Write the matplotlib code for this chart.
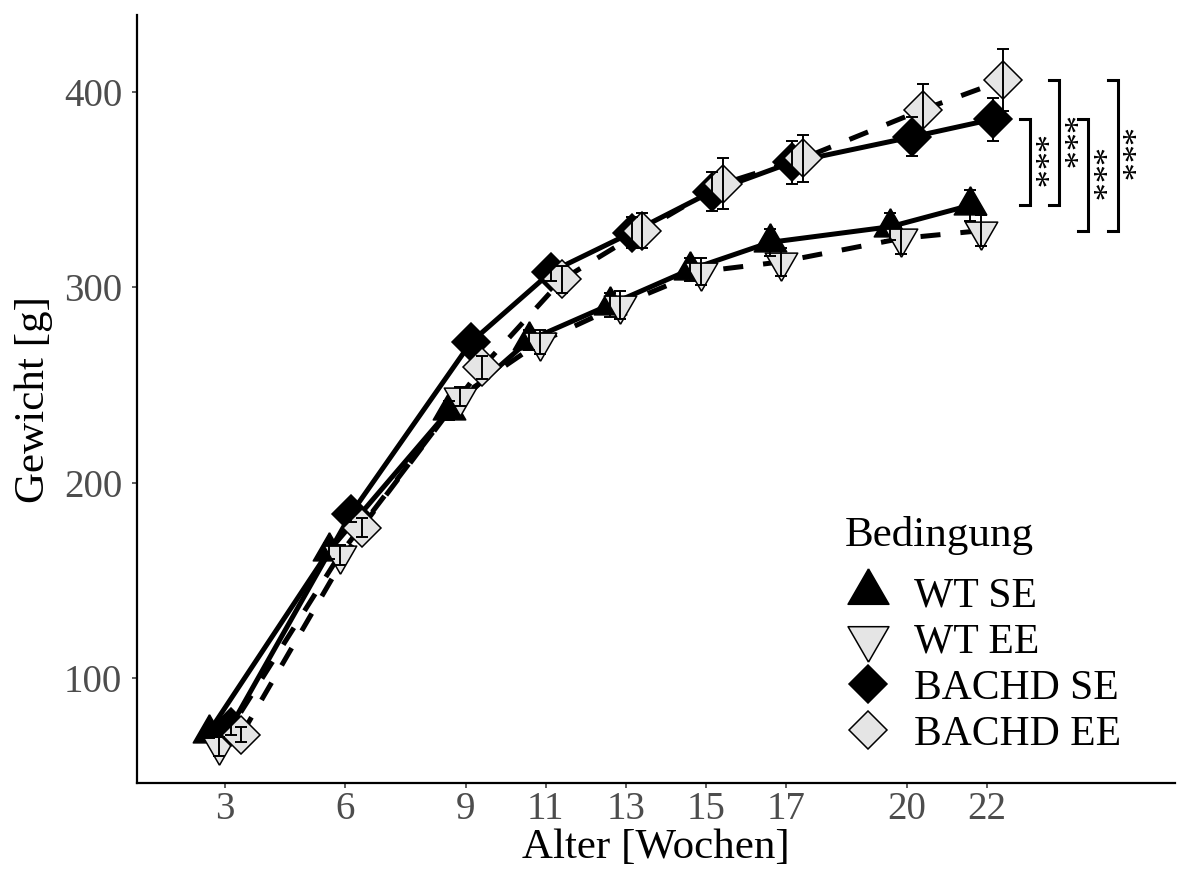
import matplotlib

matplotlib.use("Agg")
import matplotlib.pyplot as plt
from matplotlib.lines import Line2D

plt.rcParams["font.family"] = ["Liberation Serif", "DejaVu Serif"]

# ---- data -------------------------------------------------------------
weeks = [3, 6, 9, 11, 13, 15, 17, 20, 22]
groups = ["WT SE", "WT EE", "BACHD SE", "BACHD EE"]

wt_se = [72, 165, 237, 273, 291, 309, 323, 331, 342]
wt_ee = [65, 163, 244, 272, 291, 308, 313, 325, 329]
bachd_se = [75, 184, 272, 308, 328, 349, 364, 377, 386]
bachd_ee = [71, 177, 259, 304, 329, 353, 366, 391, 406]

wt_se_sem = [3, 4, 5, 5, 6, 6, 7, 7, 8]
wt_ee_sem = [5, 5, 5, 6, 7, 7, 7, 8, 8]
bachd_se_sem = [4, 4, 5, 5, 8, 10, 11, 10, 11]
bachd_ee_sem = [4, 5, 6, 7, 9, 13, 12, 13, 16]

# pairwise comparisons at week 22 (upper group, lower group, label)
comparisons = [
    ("BACHD SE", "WT SE", "***"),
    ("BACHD EE", "WT SE", "***"),
    ("BACHD SE", "WT EE", "***"),
    ("BACHD EE", "WT EE", "***"),
]

means = dict(zip(groups, [wt_se, wt_ee, bachd_se, bachd_ee]))
sems = dict(zip(groups, [wt_se_sem, wt_ee_sem, bachd_se_sem, bachd_ee_sem]))

# ---- styling ------------------------------------------------------------
GREY = "#E5E5E5"
TRI_UP = [(0, 1), (-0.866, -0.5), (0.866, -0.5), (0, 1)]
TRI_DOWN = [(0, -1), (-0.866, 0.5), (0.866, 0.5), (0, -1)]
DASH = (0, (4, 4))
style = {
    "WT SE": dict(marker=TRI_UP, fc="black", ls="-", ms=27, lms=34),
    "WT EE": dict(marker=TRI_DOWN, fc=GREY, ls=DASH, ms=27, lms=34),
    "BACHD SE": dict(marker="D", fc="black", ls="-", ms=19, lms=19),
    "BACHD EE": dict(marker="D", fc=GREY, ls=DASH, ms=19, lms=19),
}
dodge = dict(zip(groups, [-0.41, -0.14, 0.14, 0.41]))

fig = plt.figure(figsize=(11.91, 8.76), dpi=100)
ax = fig.add_axes([137 / 1191, 1 - 783 / 876, (1175 - 137) / 1191, (783 - 15) / 876])

for g in groups:
    x = [w + dodge[g] for w in weeks]
    ax.plot(x, means[g], color="black", lw=3.6, ls=style[g]["ls"], zorder=2)
for g in groups:
    x = [w + dodge[g] for w in weeks]
    s = style[g]
    ax.plot(x, means[g], ls="none", marker=s["marker"], ms=s["ms"],
            mfc=s["fc"], mec="black", mew=1.1, zorder=3)
for g in groups:
    x = [w + dodge[g] for w in weeks]
    ax.errorbar(x, means[g], yerr=sems[g], fmt="none", ecolor="black",
                elinewidth=1.4, capsize=4.4, capthick=1.4, zorder=4)

# ---- significance brackets at the last time point ------------------------
last = {g: means[g][-1] for g in groups}
bx0, bstep, tick = 23.07, 0.73, 0.25
for i, (hi, lo, lab) in enumerate(comparisons):
    bx = bx0 + i * bstep
    y1, y2 = last[hi], last[lo]
    ax.plot([bx - tick, bx, bx, bx - tick], [y1, y1, y2, y2],
            color="black", lw=2.2, solid_joinstyle="miter", zorder=2)
    ax.text(bx - 0.2, (y1 + y2) / 2, lab, rotation=270, rotation_mode="anchor",
            ha="center", va="baseline", fontsize=26)

ax.set_xlim(0.806, 26.69)
ax.set_ylim(46.2, 439.4)
ax.set_xticks(weeks)
ax.set_yticks([100, 200, 300, 400])
ax.tick_params(labelsize=28, labelcolor="#4D4D4D", color="#333333",
               length=3.6, width=1.1)
ax.tick_params(axis="x", pad=2.5)
ax.tick_params(axis="y", pad=7)
for side in ["top", "right"]:
    ax.spines[side].set_visible(False)
for side in ["left", "bottom"]:
    ax.spines[side].set_linewidth(1.6)
    ax.spines[side].set_color("black")
ax.set_xlabel("Alter [Wochen]", fontsize=31, labelpad=0)
ax.set_ylabel("Gewicht [g]", fontsize=31, labelpad=8)

handles = [
    Line2D([], [], ls="none", marker=style[g]["marker"], ms=style[g]["lms"],
           mfc=style[g]["fc"], mec="black", mew=1.1)
    for g in groups
]
leg = ax.legend(handles, groups, title="Bedingung", loc="upper left",
                bbox_to_anchor=(845 / 1191, 1 - 516 / 876),
                bbox_transform=fig.transFigure, frameon=False, fontsize=30,
                title_fontsize=31, handlelength=1.1, handletextpad=0.55,
                labelspacing=0.18, borderpad=0, borderaxespad=0,
                alignment="left")
leg._legend_box.sep = 16  # extra gap below the legend title

fig.savefig("out.png", dpi=100)
